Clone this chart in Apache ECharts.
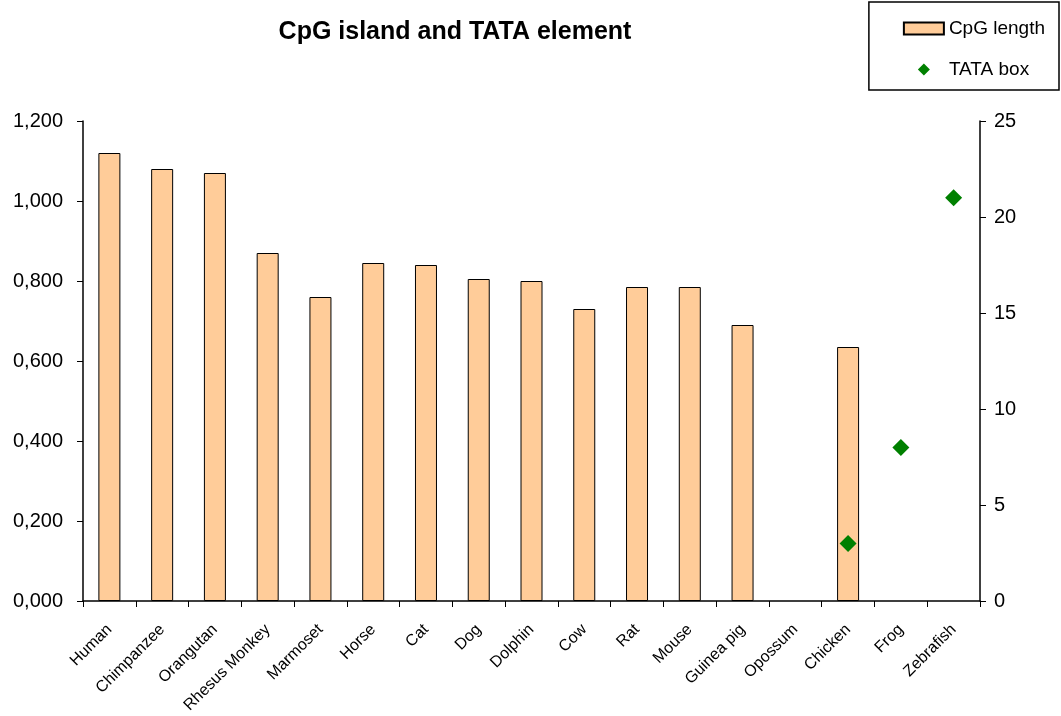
<!DOCTYPE html>
<html>
<head>
<meta charset="utf-8">
<script src="https://cdn.jsdelivr.net/npm/echarts@6/dist/echarts.min.js"></script>
<style>
html,body{margin:0;padding:0;background:#fff}
#main{width:1061px;height:716px}
</style>
</head>
<body>
<div id="main"></div>
<script>
const species=['Human','Chimpanzee','Orangutan','Rhesus Monkey','Marmoset','Horse','Cat','Dog','Dolphin','Cow','Rat','Mouse','Guinea pig','Opossum','Chicken','Frog','Zebrafish']
const cpgLength=[1.12,1.08,1.07,0.87,0.76,0.845,0.84,0.805,0.80,0.73,0.785,0.785,0.69,null,0.635,null,null]
const tataBox=[null,null,null,null,null,null,null,null,null,null,null,null,null,null,3,8,21]

const chartDom=document.getElementById('main')
let myChart=echarts.init(chartDom)
let option;
const axisFont={fontFamily:'Liberation Sans',color:'#000'}
option={
    textStyle:{fontFamily:'Liberation Sans'},
    title:{
        text:'CpG island and TATA element',
        left:450,
        textAlign:'center',
        top:15,
        textStyle:{fontSize:25,fontWeight:'bold',color:'#000',fontFamily:'Liberation Sans'}
    },
    legend:{
        orient:'vertical',
        right:2,
        top:2,
        padding:[17,14,11,34],
        itemGap:22,
        itemWidth:40,
        itemHeight:12,
        symbolKeepAspect:true,
        borderColor:'#000',
        borderWidth:1.5,
        borderRadius:0,
        textStyle:{fontSize:19,color:'#000',fontFamily:'Liberation Sans'},
        data:[
            {name:'CpG length',icon:'rect'},
            {name:'TATA box',icon:'path://M0,-1L1,0L0,1L-1,0Z'}
        ]
    },
    grid:{left:83,right:81,top:121,bottom:115},
    xAxis:{
        type:'category',
        data:species,
        axisLine:{lineStyle:{color:'#000',width:1.5}},
        axisTick:{show:true,alignWithLabel:false,length:6,lineStyle:{color:'#000'}},
        axisLabel:Object.assign({rotate:45,fontSize:16,interval:0,margin:26},axisFont)
    },
    yAxis:[
        {
            type:'value',
            min:0,max:1.2,interval:0.2,
            splitLine:{show:false},
            axisLine:{show:true,lineStyle:{color:'#000',width:1.5}},
            axisTick:{show:true,inside:false,length:6,lineStyle:{color:'#000'}},
            axisLabel:Object.assign({fontSize:20,margin:20,formatter:v=>v.toFixed(3).replace('.',',')},axisFont)
        },
        {
            type:'value',
            min:0,max:25,interval:5,
            position:'right',
            splitLine:{show:false},
            axisLine:{show:true,lineStyle:{color:'#000',width:1.5}},
            axisTick:{show:true,inside:false,length:6,lineStyle:{color:'#000'}},
            axisLabel:Object.assign({fontSize:20,margin:14},axisFont)
        }
    ],
    series:[
        {
            name:'CpG length',
            type:'bar',
            data:cpgLength,
            barWidth:22,
            itemStyle:{color:'#FFCC99',borderColor:'#000',borderWidth:1}
        },
        {
            name:'TATA box',
            type:'scatter',
            yAxisIndex:1,
            data:tataBox,
            symbol:'diamond',
            symbolSize:17,
            itemStyle:{color:'#008000',opacity:1}
        }
    ]
}

option && myChart.setOption(option);
</script>
</body>
</html>
